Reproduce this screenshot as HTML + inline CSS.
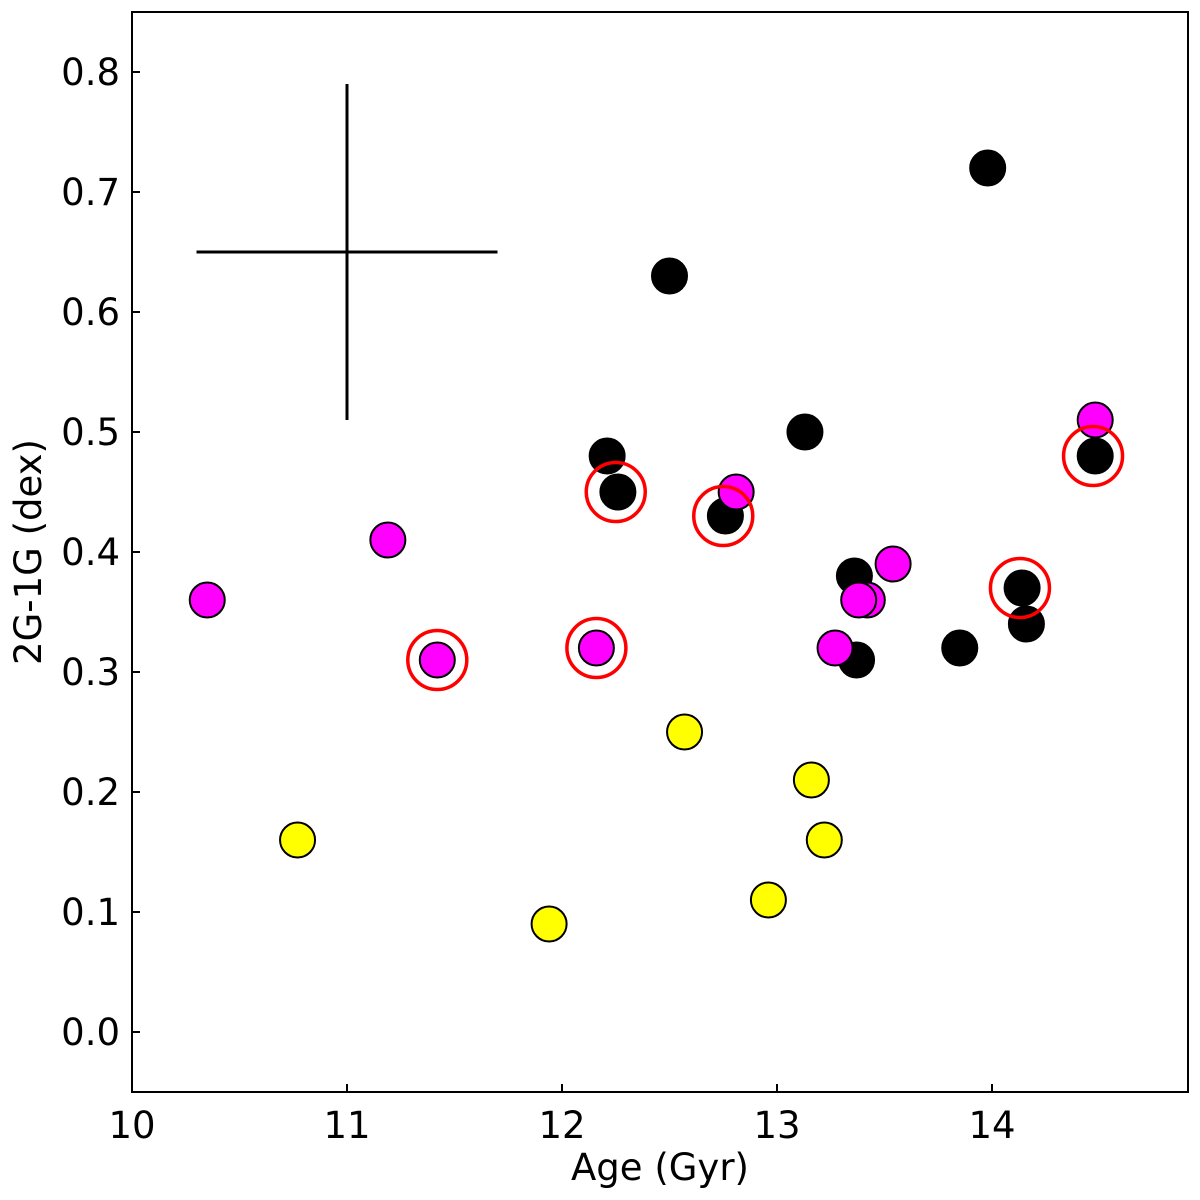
<!DOCTYPE html>
<html><head><meta charset="utf-8"><style>body{margin:0;background:#fff}svg{display:block}</style></head>
<body>
<svg id="chart" width="1200" height="1200" xmlns="http://www.w3.org/2000/svg"></svg>
<script>
const blackX=[12.5,13.98,13.13,12.21,12.26,12.76,13.36,13.37,13.85,14.14,14.16,14.48];
const blackY=[0.63,0.72,0.50,0.48,0.45,0.43,0.38,0.31,0.32,0.37,0.34,0.48];
const magX=[10.35,11.19,11.42,12.16,12.81,13.42,13.38,13.54,13.27,14.48];
const magY=[0.36,0.41,0.31,0.32,0.45,0.36,0.36,0.39,0.32,0.51];
const yelX=[10.77,11.94,12.57,12.96,13.16,13.22];
const yelY=[0.16,0.09,0.25,0.11,0.21,0.16];
const ringX=[11.42,12.16,12.25,12.75,14.13,14.47];
const ringY=[0.31,0.32,0.45,0.43,0.37,0.48];
const xTicks=[10,11,12,13,14];
const yTicks=[0.0,0.1,0.2,0.3,0.4,0.5,0.6,0.7,0.8];
const errX=[10.3,11.7], errY=[0.51,0.79], errC=[11,0.65];

const L=132,R=1188,T=12,B=1092;
const sx=v=>132+(v-10)*215;
const sy=v=>1032-v*1200;
const svg=document.getElementById('chart');
const NS='http://www.w3.org/2000/svg';
const FF='DejaVu Sans, sans-serif';
function mk(t,a){const e=document.createElementNS(NS,t);for(const k in a)e.setAttribute(k,a[k]);svg.appendChild(e);return e;}

let e=mk('rect',{x:L,y:T,width:R-L,height:B-T,fill:'none',stroke:'#000','stroke-width':2});



xTicks.forEach(v=>{
 let t=mk('line',{x1:sx(v),x2:sx(v),y1:B,y2:B-8,stroke:'#000','stroke-width':2});
 
 
 let l=mk('text',{x:sx(v),y:B+46,'text-anchor':'middle','font-family':FF,'font-size':37});
 l.textContent=v;
 
 
});
yTicks.forEach(v=>{
 let t=mk('line',{x1:L,x2:L+8,y1:sy(v),y2:sy(v),stroke:'#000','stroke-width':2});
 
 
 let l=mk('text',{x:L-12,y:sy(v)+13,'text-anchor':'end','font-family':FF,'font-size':37});
 l.textContent=v.toFixed(1);
 
 
});
let xl=mk('text',{x:660,y:1180,'text-anchor':'middle','font-family':FF,'font-size':37});
xl.textContent='Age (Gyr)';


let yl=mk('text',{x:0,y:0,'text-anchor':'middle','font-family':FF,'font-size':37,transform:'translate(41,552) rotate(-90)'});
yl.textContent='2G-1G (dex)';



let eh=mk('line',{x1:sx(errX[0]),x2:sx(errX[1]),y1:sy(errC[1]),y2:sy(errC[1]),stroke:'#000','stroke-width':3});


let ev=mk('line',{x1:sx(errC[0]),x2:sx(errC[0]),y1:sy(errY[0]),y2:sy(errY[1]),stroke:'#000','stroke-width':3});



function pts(xs,ys,fill,name){
 xs.forEach((x,i)=>{
  let c=mk('circle',{cx:sx(x),cy:sy(ys[i]),r:17.5,fill:fill,stroke:'#000','stroke-width':2});
  
  
 });
}
pts(blackX,blackY,'#000','black-point');
pts(magX,magY,'#ff00ff','magenta-point');
pts(yelX,yelY,'#ffff00','yellow-point');
ringX.forEach((x,i)=>{
 let c=mk('circle',{cx:sx(x),cy:sy(ringY[i]),r:29.5,fill:'none',stroke:'#ff0000','stroke-width':3.5});
 
 
});
</script>
</body></html>
